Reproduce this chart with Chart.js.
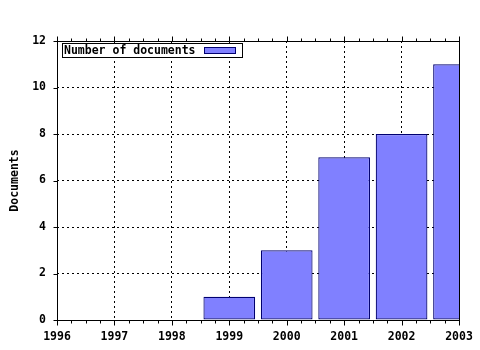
<!DOCTYPE html>
<html><head><meta charset="utf-8">
<script src="https://cdn.jsdelivr.net/npm/chart.js@4/dist/chart.umd.min.js"></script>
<style>html,body{margin:0;padding:0;background:#fff;}</style>
</head><body>
<canvas id="c" width="480" height="350"></canvas>
<script>
const years = [1999, 2000, 2001, 2002, 2003];
const documents = [1, 3, 7, 8, 11];
const seriesLabel = 'Number of documents';
const axisTitle = 'Documents';
const xRange = [1996, 2003];
const yTicks = [0, 2, 4, 6, 8, 10, 12];

const FILL = '#8080ff', EDGE = '#000070';
Chart.defaults.font = {family: '"DejaVu Sans Mono", monospace', size: 11.5, weight: 'bold', lineHeight: 1.2};
Chart.defaults.color = '#000';

function seg(ctx, x1, y1, x2, y2){ ctx.beginPath(); ctx.moveTo(x1, y1); ctx.lineTo(x2, y2); ctx.stroke(); }

const frame = {
  id: 'frame',
  afterDatasetsDraw(chart){
    const {ctx, chartArea: a, scales: {x, y}} = chart;
    ctx.save();
    ctx.strokeStyle = '#000'; ctx.lineWidth = 1; ctx.setLineDash([]);
    const L = Math.round(a.left) + 0.5, R = Math.round(a.right) + 0.5, T = Math.round(a.top) + 0.5, B = Math.round(a.bottom) + 0.5;
    ctx.strokeRect(L, T, R - L, B - T);
    for (let v = xRange[0]; v <= xRange[1] + 1e-9; v += 0.25) {
      const px = Math.round(x.getPixelForValue(v)) + 0.5;
      const major = Math.abs(v - Math.round(v)) < 1e-9;
      const len = major ? 5 : 3;
      seg(ctx, px, B, px, B + len);
      seg(ctx, px, T, px, T - len);
    }
    for (const v of yTicks) {
      const py = Math.round(y.getPixelForValue(v)) + 0.5;
      seg(ctx, L - 4, py, L, py);
    }
    // legend
    const ds = chart.data.datasets[0];
    ctx.fillStyle = '#fff';
    ctx.fillRect(63, 44, 179, 13);
    ctx.strokeRect(62.5, 43.5, 180, 14);
    ctx.fillStyle = '#000';
    ctx.font = 'bold 11.5px "DejaVu Sans Mono", monospace';
    ctx.textBaseline = 'middle'; ctx.textAlign = 'left';
    ctx.fillText(ds.label, 64, 51);
    ctx.fillStyle = ds.backgroundColor;
    ctx.fillRect(204, 47, 31, 6);
    ctx.strokeStyle = ds.borderColor;
    ctx.strokeRect(204.5, 47.5, 31, 6);
    ctx.restore();
  }
};

new Chart(document.getElementById('c'), {
  type: 'bar',
  data: {
    datasets: [{
      label: seriesLabel,
      data: years.map((yr, i) => ({x: yr, y: documents[i]})),
      backgroundColor: FILL,
      borderColor: EDGE,
      borderWidth: 1.2,
      borderSkipped: false,
      barPercentage: 0.9,
      categoryPercentage: 1.0
    }]
  },
  options: {
    responsive: false,
    animation: false,
    layout: {padding: {top: 41, right: 21, bottom: 0, left: 0}},
    plugins: {legend: {display: false}, tooltip: {enabled: false}},
    scales: {
      x: {
        type: 'linear', min: xRange[0], max: xRange[1], offset: false,
        afterFit(s){ s.height = 30; s.paddingLeft = 14; s.paddingRight = 14; },
        ticks: {stepSize: 1, padding: 10, maxRotation: 0, autoSkip: false, callback: v => String(v)},
        grid: {offset: false, color: '#000', lineWidth: 1, drawTicks: false, tickLength: 0},
        border: {display: false, dash: [2, 3]}
      },
      y: {
        min: 0, max: 12,
        afterFit(s){ s.width = 57; },
        ticks: {stepSize: 2, padding: 11, callback: v => String(v)},
        grid: {color: '#000', lineWidth: 1, drawTicks: false, tickLength: 0},
        border: {display: false, dash: [2, 3]},
        title: {display: true, text: axisTitle, padding: {top: 8, bottom: 0}}
      }
    }
  },
  plugins: [frame]
});
</script>
</body></html>
